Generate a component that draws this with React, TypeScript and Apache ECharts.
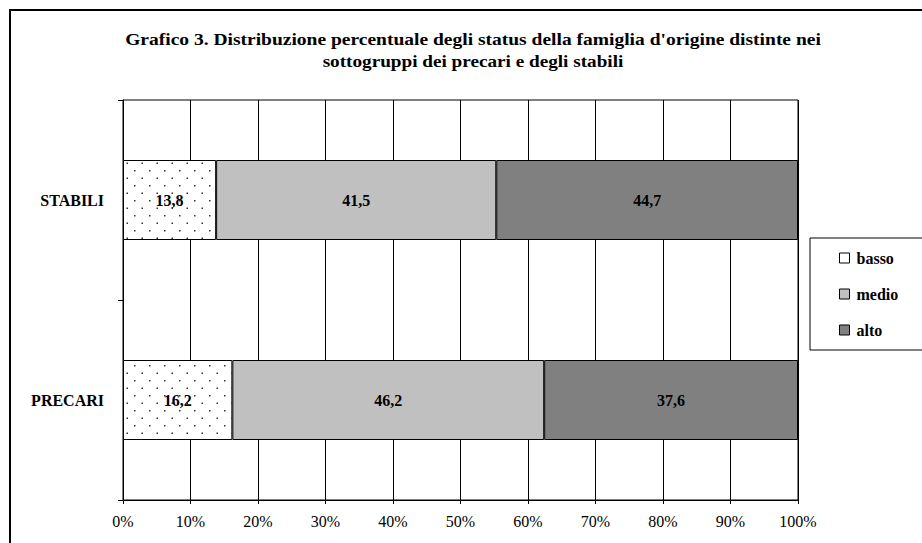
import React, { useEffect, useRef } from "react";
import * as echarts from "echarts";

const categories = ["PRECARI", "STABILI"];
const seriesNames = ["basso", "medio", "alto"];
const basso = [16.2, 13.8];
const medio = [46.2, 41.5];
const alto = [37.6, 44.7];
const xTicks = [0, 10, 20, 30, 40, 50, 60, 70, 80, 90, 100];
const titleLine1 =
  "Grafico 3. Distribuzione percentuale degli status della famiglia d'origine distinte nei";
const titleLine2 = "sottogruppi dei precari e degli stabili";

const SERIF = '"Liberation Serif", "Times New Roman", serif';

function makeDots(): HTMLCanvasElement {
  const c = document.createElement("canvas");
  c.width = 30;
  c.height = 30;
  const ctx = c.getContext("2d")!;
  ctx.fillStyle = "#ffffff";
  ctx.fillRect(0, 0, 30, 30);
  ctx.fillStyle = "#333333";
  ctx.fillRect(13, 25, 3, 3);
  ctx.fillRect(28, 10, 2, 3);
  ctx.fillRect(0, 10, 1, 3);
  return c;
}

export default function App() {
  const ref = useRef<HTMLDivElement>(null);
  useEffect(() => {
    if (!ref.current) return;
    const chart = echarts.init(ref.current, undefined, { renderer: "svg" });
    const dotPattern: any = {
      image: makeDots(),
      repeat: "repeat",
      imageWidth: 15,
      imageHeight: 15,
    };
    const fmt = (p: any) => String(p.value).replace(".", ",");
    const labelStyle = {
      show: true,
      position: "inside",
      formatter: fmt,
      color: "#000",
      fontFamily: SERIF,
      fontWeight: "bold",
      fontSize: 16,
    };
    const colors = [dotPattern, "#C0C0C0", "#808080"];
    const values = [basso, medio, alto];
    chart.setOption({
      animation: false,
      backgroundColor: "#fff",
      grid: {
        left: 123,
        right: 124,
        top: 100,
        bottom: 43,
        show: true,
        borderColor: "#000",
        borderWidth: 1,
        backgroundColor: "transparent",
      },
      graphic: [
        {
          type: "rect",
          shape: { x: 10, y: 10, width: 1000, height: 1000 },
          style: { fill: "none", stroke: "#000", lineWidth: 2 },
          z: -10,
        },
        {
          type: "text",
          x: 473,
          y: 40,
          scaleX: 1.22,
          style: {
            text: titleLine1,
            font: `bold 16px ${SERIF}`,
            fill: "#000",
            textAlign: "center",
            textVerticalAlign: "middle",
          },
        },
        {
          type: "text",
          x: 473,
          y: 62,
          scaleX: 1.2,
          style: {
            text: titleLine2,
            font: `bold 16px ${SERIF}`,
            fill: "#000",
            textAlign: "center",
            textVerticalAlign: "middle",
          },
        },
      ],
      legend: {
        orient: "vertical",
        left: 810,
        top: 238,
        padding: [12, 40, 12, 29],
        itemGap: 20,
        itemWidth: 10,
        itemHeight: 10,
        icon: "rect",
        borderColor: "#000",
        borderWidth: 1,
        backgroundColor: "#fff",
        textStyle: {
          fontFamily: SERIF,
          fontWeight: "bold",
          fontSize: 16,
          lineHeight: 16,
          color: "#000",
          padding: [0, 0, 0, 2],
        },
        itemStyle: { borderColor: "#000", borderWidth: 1 },
        data: [
          { name: "basso", itemStyle: { color: "#fff" } },
          { name: "medio" },
          { name: "alto" },
        ],
      },
      xAxis: {
        type: "value",
        min: xTicks[0],
        max: xTicks[xTicks.length - 1],
        interval: 10,
        axisLine: { show: true, lineStyle: { color: "#000", width: 1 } },
        axisTick: { show: true, length: 4, lineStyle: { color: "#000" } },
        splitLine: { show: true, lineStyle: { color: "#000", width: 1 } },
        axisLabel: {
          formatter: "{value}%",
          fontFamily: SERIF,
          fontSize: 16,
          color: "#000",
          margin: 13,
        },
      },
      yAxis: {
        type: "category",
        data: categories,
        axisLine: { show: true, lineStyle: { color: "#000", width: 1 } },
        axisTick: { show: true, length: 5, lineStyle: { color: "#000" } },
        axisLabel: {
          fontFamily: SERIF,
          fontWeight: "bold",
          fontSize: 16,
          color: "#000",
          margin: 19,
        },
      },
      series: seriesNames.map((name, i) => ({
        name,
        type: "bar",
        stack: "tot",
        barWidth: "40%",
        data: values[i],
        itemStyle: { color: colors[i], borderColor: "#000", borderWidth: 1 },
        label: labelStyle,
      })),
    });
    return () => chart.dispose();
  }, []);
  return (
    <div
      ref={ref}
      style={{ position: "absolute", left: 0, top: 0, width: 922, height: 543 }}
    />
  );
}
